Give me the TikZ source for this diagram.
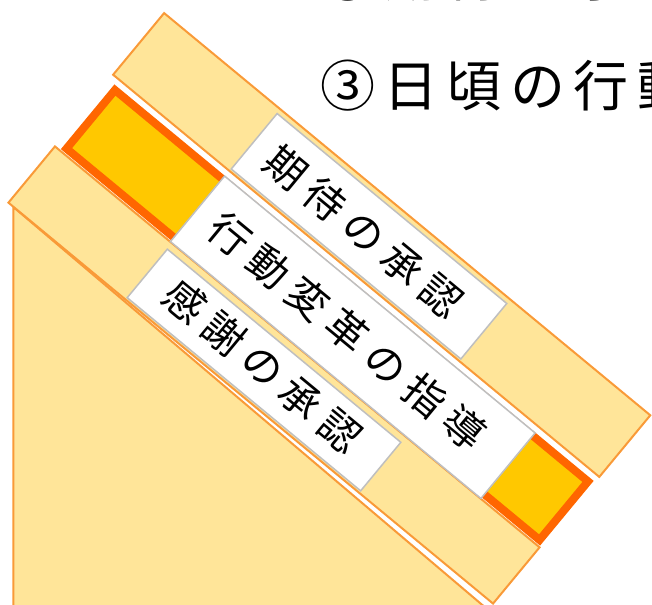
\documentclass[tikz,border=0pt]{standalone}
\usepackage{fontspec}
\setmainfont{Noto Sans CJK JP}
\definecolor{pale}{HTML}{FFE599}
\definecolor{edge}{HTML}{F99A38}
\definecolor{gold}{HTML}{FFC800}
\definecolor{deep}{HTML}{FF6600}
\definecolor{frame}{HTML}{BFBFBF}
\newcommand{\lch}[1]{\makebox[50.5pt]{#1}}
\newcommand{\tch}[1]{\makebox[63.4pt]{#1}}
\begin{document}
\begin{tikzpicture}[x=1pt,y=-1pt,
  book/.style={draw=edge, fill=pale, line width=2pt, rectangle, rotate=-39.6, inner sep=0pt},
  keybook/.style={draw=deep, fill=gold, line width=8pt, rectangle, rotate=-39.6, inner sep=0pt},
  tagbox/.style={draw=frame, fill=white, line width=1.5pt, rectangle, rotate=-39.6, inner sep=0pt},
  spine/.style={rotate=-39.6, inner sep=0pt, font=\fontsize{41}{44}\selectfont},
  titletext/.style={anchor=base west, inner sep=0pt, font=\fontsize{55}{60}\selectfont}]
\useasboundingbox (0,0) rectangle (652,604);
\clip (0,0) rectangle (652,604);
% large book lying underneath
\draw[draw=edge, fill=pale, line width=2pt] (13.3,207) coordinate (s1) -- (13.3,640) -- (523.6,640) -- cycle;
% books
\node[book, minimum width=631pt, minimum height=80pt] (b1) at (381.7,245) {};
\node[keybook, minimum width=614pt, minimum height=76pt] (b2) at (327.25,315) {};
\node[book, minimum width=629pt, minimum height=73pt] (b3) at (274,375) {};
% spine labels
\node[tagbox, minimum width=298pt, minimum height=72pt] (w1) at (369,236.25) {};
\node[tagbox, minimum width=403pt, minimum height=85pt] (w2) at (352.75,337.25) {};
\node[tagbox, minimum width=303pt, minimum height=63pt] (w3) at (264,370) {};
\node[spine] (l1) at (363.8,231.7) {\lch{期}\lch{待}\lch{の}\lch{承}\lch{認}};
\node[spine] (l2) at (347,331) {\lch{行}\lch{動}\lch{変}\lch{革}\lch{の}\lch{指}\lch{導}};
\node[spine] (l3) at (262.8,365.8) {\lch{感}\lch{謝}\lch{の}\lch{承}\lch{認}};
% headings
\node[titletext] (t3) at (315.8,106.5) {\tch{③}\tch{日}\tch{頃}\tch{の}\tch{行}\tch{動}};
\node[titletext] (t2) at (315.8,-3.5) {\tch{②}\tch{期}\tch{待}\tch{の}\tch{承}\tch{認}};
\end{tikzpicture}
\end{document}
